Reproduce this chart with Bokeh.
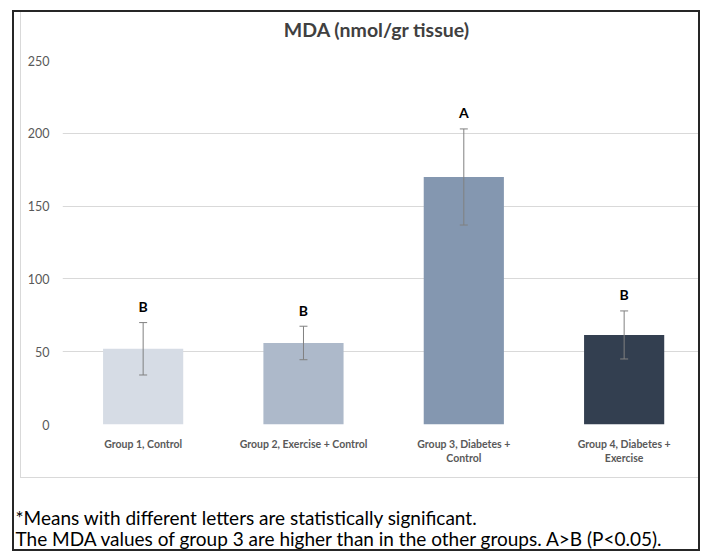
from bokeh.plotting import figure
from bokeh.models import Range1d, FixedTicker, Whisker, ColumnDataSource, TeeHead, Label, Spacer
from bokeh.layouts import column, row
from bokeh.embed import file_html
from bokeh.resources import INLINE
from bokeh.core.properties import value

# ---- data ----
groups = ["Group 1, Control", "Group 2, Exercise + Control",
          "Group 3, Diabetes + Control", "Group 4, Diabetes + Exercise"]
tick_labels = ["Group 1, Control", "Group 2, Exercise + Control",
               "Group 3, Diabetes +\nControl", "Group 4, Diabetes +\nExercise"]
means = [52, 56, 170, 61.5]
errors = [18, 11.5, 33, 16.5]
letters = ["B", "B", "A", "B"]
colors = ["#D6DCE5", "#ADB9CA", "#8497B0", "#333F50"]
y_ticks = [0, 50, 100, 150, 200, 250]
title_text = "MDA (nmol/gr tissue)"
note_lines = ["*Means with different letters are statistically significant.",
              "The MDA values of group 3 are higher than in the other groups. A>B (P<0.05)."]

xs = list(range(len(groups)))
upper = [m + e for m, e in zip(means, errors)]
lower = [m - e for m, e in zip(means, errors)]
src = ColumnDataSource(dict(x=xs, top=means, upper=upper, lower=lower,
                            letter=letters, color=colors, group=groups))

FONT = "Lato"
GRAY_BORDER = "1px solid #d9d9d9"

# ---- title strip (its frame is aligned with the chart's frame by the column) ----
t = figure(width=678, height=40, x_range=Range1d(0, 636), y_range=Range1d(40, 0),
           output_backend="svg", toolbar_location=None, min_border=0,
           x_axis_location=None, y_axis_location=None)
t.grid.visible = False
t.outline_line_color = None
t.add_layout(Label(x=314, y=17, text=title_text, text_font=FONT, text_font_size="19.5px",
                   text_font_style="bold", text_color="#404040",
                   text_align="center", text_baseline="middle"))
t.styles = {"border-left": GRAY_BORDER}

# ---- chart ----
p = figure(width=678, height=426, x_range=Range1d(-0.503, 3.47), y_range=Range1d(0, 250),
           output_backend="svg", toolbar_location=None,
           min_border_left=41, min_border_right=0, min_border_bottom=54, min_border_top=8)

p.outline_line_color = None
p.background_fill_color = "white"
p.border_fill_color = "white"

p.xgrid.visible = False
p.ygrid.ticker = FixedTicker(ticks=y_ticks)
p.ygrid.grid_line_color = "#d9d9d9"
p.ygrid.grid_line_width = 1

p.yaxis.ticker = FixedTicker(ticks=y_ticks)
p.yaxis.axis_line_color = None
p.yaxis.major_tick_line_color = None
p.yaxis.minor_tick_line_color = None
p.yaxis.major_label_text_font = FONT
p.yaxis.major_label_text_font_size = "12.5px"
p.yaxis.major_label_text_color = "#595959"
p.yaxis.major_label_standoff = 7

p.xaxis.ticker = FixedTicker(ticks=xs)
p.xaxis.major_label_overrides = {i: lab for i, lab in zip(xs, tick_labels)}
p.xaxis.axis_line_color = None
p.xaxis.major_tick_line_color = None
p.xaxis.minor_tick_line_color = None
p.xaxis.major_label_text_font = FONT
p.xaxis.major_label_text_font_size = "10.5px"
p.xaxis.major_label_text_font_style = "bold"
p.xaxis.major_label_text_color = "#595959"
p.xaxis.major_label_standoff = 7

p.vbar(x="x", top="top", bottom=0, width=0.5, fill_color="color", line_color=None, source=src)

wk = Whisker(base="x", upper="upper", lower="lower", source=src,
             line_color="#808080", line_width=1, level="overlay",
             upper_head=TeeHead(size=8, line_color="#808080", line_width=1),
             lower_head=TeeHead(size=8, line_color="#808080", line_width=1))
p.add_layout(wk)

p.text(x="x", y="upper", text="letter", source=src, text_align="center",
       text_baseline="alphabetic", y_offset=-16, text_font=value(FONT),
       text_font_style="bold", text_font_size="14px", text_color="black")

p.styles = {"border-left": GRAY_BORDER, "border-bottom": GRAY_BORDER}

# ---- notes ----
n = figure(width=684, height=71, x_range=Range1d(0, 684), y_range=Range1d(71, 0),
           output_backend="svg", toolbar_location=None, min_border=0,
           x_axis_location=None, y_axis_location=None)
n.grid.visible = False
n.outline_line_color = None
for i, txt in enumerate(note_lines):
    n.add_layout(Label(x=1, y=39 + 21 * i, text=txt, text_font=FONT, text_font_size="19px",
                       text_color="black", text_baseline="middle", text_align="left"))

chart = column(t, p, spacing=0)
layout = column(row(Spacer(width=6, height=466), chart), n,
                width=688, height=541, sizing_mode="fixed", margin=(10, 0, 0, 12),
                styles={"border": "2px solid #262626", "background": "white",
                        "box-sizing": "border-box"})

open("out.html", "w").write(file_html(layout, INLINE))
